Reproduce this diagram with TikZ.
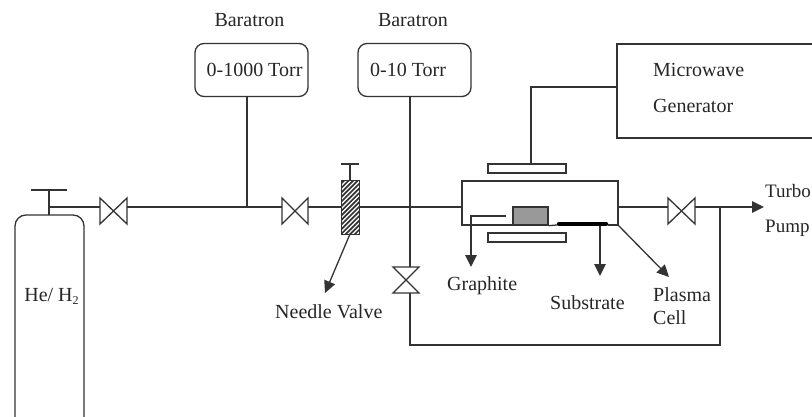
\documentclass[tikz,border=0pt]{standalone}
\usepackage{fontspec}
\setmainfont{Liberation Serif}
\usetikzlibrary{arrows.meta}
\tikzset{
  line/.style={line width=1.3pt,draw=black!80},
  txt/.style={font=\fontsize{20}{22}\selectfont,text=black!85},
  lbl/.style={txt,inner sep=0pt},
  edgelbl/.style={lbl,anchor=west,font=\fontsize{19}{22}\selectfont},
  tipped/.style={line,-{Triangle[length=12pt,width=11.5pt]}},
  gauge/.style={line,txt,rounded corners=9pt,minimum width=113pt,minimum height=53pt,inner sep=0pt},
  plate/.style={line,minimum width=78pt,minimum height=9pt,inner sep=0pt},
}
\begin{document}
\begin{tikzpicture}[x=1pt,y=-1pt]
\useasboundingbox (0,0) rectangle (812,417);
% cylinder
\draw[line,rounded corners=11pt] (15,422) -- (15,215) -- (84,215) -- (84,422);
\node[lbl] (gas) at (51.5,296) {He/ H\raisebox{-3pt}{\fontsize{12}{12}\selectfont 2}};
\coordinate (cyltop) at (49,215);
\coordinate (cylcap) at (49,190);
\draw[line] (cyltop) -- (cylcap);
\draw[line] (31,190) -- (67,190);
% valve 1
\coordinate (v1r) at (127,207);
\draw[line] (100,198) -- (127,224) -- (127,198) -- (100,224) -- cycle;
\coordinate (v1lin) at (100,207);
\draw[line] (49,207) -- (v1lin);
% valve 2
\coordinate (v2l) at (282,207); \coordinate (v2r) at (308,207);
\draw[line] (282,198) -- (308,224) -- (308,198) -- (282,224) -- cycle;
\draw[line] (v1r) -- (v2l);
% needle valve
\node[minimum width=17pt,minimum height=53pt,inner sep=0pt] (nv) at (350.5,207.5) {};
\begin{scope}
\clip (nv.south west) rectangle (nv.north east);
\foreach \k in {0,...,18} \draw[line width=1.7pt,black!80] (284+4.6*\k,236) -- (284+4.6*\k+58,178);
\end{scope}
\draw[line] (nv.south west) rectangle (nv.north east);
\coordinate (nvl) at (342,207); \coordinate (nvr) at (359,207);
\draw[line] (v2r) -- (nvl);
\coordinate (nvtop) at (350,164);
\draw[line] (350,181) -- (nvtop);
\draw[line] (341,164) -- (359,164);
% baratrons
\node[lbl] (b1t) at (249.5,20) {Baratron};
\node[lbl] (b2t) at (413,20) {Baratron};
\node[gauge] (b1) at (251.5,70) {\raisebox{-2pt}{\hspace*{6pt}0-1000 Torr}};
\node[gauge] (b2) at (414.5,70) {\raisebox{-2pt}{0-10 Torr\hspace*{13pt}}};
\coordinate (b1s) at (247,96.5);
\coordinate (b2s) at (410,96.5);
\draw[line] (b1s) -- (247,207);
\coordinate (v3t) at (410,267); \coordinate (v3b) at (410,293);
\draw[line] (b2s) -- (v3t);
\draw[line] (393,267) -- (419,293) -- (393,293) -- (419,267) -- cycle;
% chamber
\draw[line] (nvr) -- (462,207);
\draw[line] (513,225) -- (462,225) -- (462,181) -- (618,181) -- (618,225) -- (608,225);
\node[line,fill=black!40,minimum width=35pt,minimum height=18pt,inner sep=0pt] (gr) at (530.5,216) {};
\draw[line] (gr.south east) -- (557,225);
\draw[line width=4.5pt,black,line cap=round] (559,224) -- (606,224);
% plates
\node[plate] (pt) at (527,168.5) {};
\node[plate] (pb) at (527,237.5) {};
% microwave
\draw[line] (815,44) -- (617,44) -- (617,138) -- (815,138);
\node[lbl,anchor=west] (mw1) at (653,70) {Microwave};
\node[lbl,anchor=west] (mw2) at (653,106) {Generator};
\draw[line] (531,164) -- (531,87) -- (617,87);
% right pipe
\coordinate (v4l) at (668,207); \coordinate (v4r) at (695,207);
\draw[line] (668,198) -- (695,224) -- (695,198) -- (668,224) -- cycle;
\draw[line] (618,207) -- (v4l);
\coordinate (pump) at (764,207);
\draw[tipped] (v4r) -- (pump);
\node[edgelbl] (tp1) at (765,191) {Turbo};
\node[edgelbl] (tp2) at (765,228) {Pump};
\draw[line] (720,207) -- (720,345) -- (410,345) -- (v3b);
% pointers
\node[lbl,anchor=west] (g) at (447,286) {Graphite};
\node[lbl,anchor=west] (s) at (550,303) {Substrate};
\node[lbl,anchor=west] (pc1) at (653,295) {Plasma};
\node[lbl,anchor=west] (pc2) at (653,318) {Cell};
\node[lbl,anchor=west] (n) at (275,312) {Needle Valve};
\draw[tipped] (506,216) -- (471,216) -- (471,267);
\draw[tipped] (600,226) -- (600,276);
\draw[tipped] (618,225) -- (669,277);
\draw[tipped] (350,234) -- (325,293);
\end{tikzpicture}
\end{document}
